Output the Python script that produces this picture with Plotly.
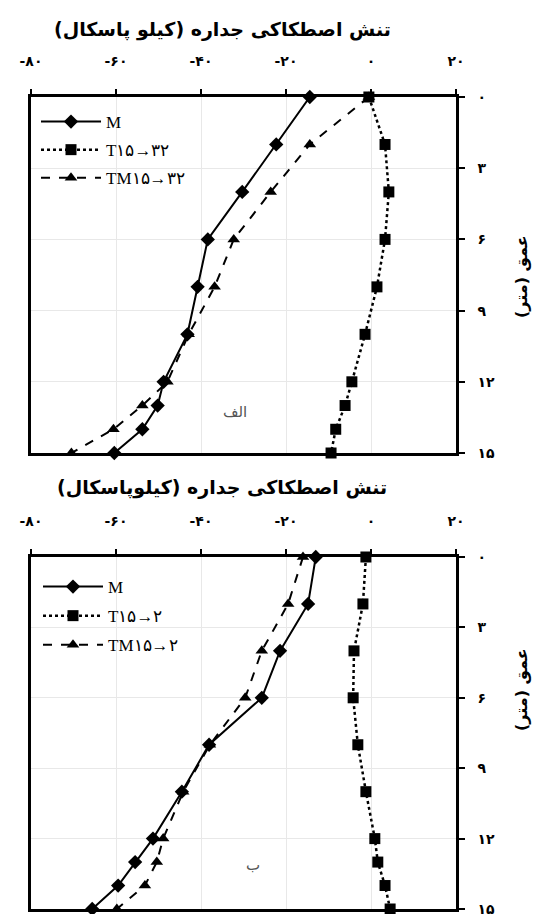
import plotly.graph_objects as go
from plotly.subplots import make_subplots

# ---------------- data ----------------
depth = [0, 2, 4, 6, 8, 10, 12, 13, 14, 15]

# panel a (الف)
m_a = [-14.4, -22.3, -30.3, -38.4, -40.8, -43.2, -48.8, -50.2, -53.8, -60.4]
t_a = [-0.5, 3.3, 4.2, 3.3, 1.4, -1.4, -4.5, -6.1, -8.3, -9.4]
tm_a = [-0.5, -14.4, -23.6, -32.3, -36.8, -42.9, -47.9, -53.8, -60.6, -70.5]

# panel b (ب)
m_b = [-13.0, -14.8, -21.4, -25.7, -38.1, -44.5, -51.3, -55.5, -59.5, -65.6]
t_b = [-1.2, -1.9, -4.0, -4.2, -3.1, -1.2, 0.9, 1.6, 3.3, 4.5]
tm_b = [-16.0, -19.5, -25.7, -29.6, -37.9, -44.2, -48.9, -50.4, -53.2, -59.8]

names_a = ["M", "T۱۵→۳۲", "TM۱۵→۳۲"]
names_b = ["M", "T۱۵→۲", "TM۱۵→۲"]

x_tickvals = [-80, -60, -40, -20, 0, 20]
x_ticktext = ["-۸۰", "-۶۰", "-۴۰", "-۲۰", "۰", "۲۰"]
y_tickvals = [0, 3, 6, 9, 12, 15]
y_ticktext = ["۰", "۳", "۶", "۹", "۱۲", "۱۵"]

RLM = "\u200f"
x_title_a = "تنش اصطکاکی جداره (کیلو پاسکال)"
x_title_b = "تنش اصطکاکی جداره (کیلوپاسکال)"
y_title = "عمق (متر)"
panel_labels = ["الف", "ب"]

# ---------------- geometry (page pixels) ----------------
W, H = 542, 914
PL, PR = 31, 456          # plot left/right
PT, PB = 97, 909          # overall plot top/bottom
ML, MR, MT, MB = PL, W - PR, PT, H - PB
plot_h = H - MT - MB
plot_w = W - ML - MR

def py(ypix):
    return (PB - ypix) / plot_h

def px(xpix):
    return (xpix - PL) / plot_w

fig = make_subplots(rows=2, cols=1)
fig.update_layout(
    yaxis=dict(domain=[py(453), 1.0]),
    yaxis2=dict(domain=[0.0, py(557)]),
)

styles = [
    dict(line=dict(color="black", width=2, dash="solid"),
         marker=dict(symbol="diamond", size=11, color="black")),
    dict(line=dict(color="black", width=2.5, dash="dot"),
         marker=dict(symbol="square", size=11, color="black")),
    dict(line=dict(color="black", width=2, dash="dash"),
         marker=dict(symbol="triangle-up", size=11, color="black")),
]

for row, series, names, leg in [
    (1, [m_a, t_a, tm_a], names_a, "legend"),
    (2, [m_b, t_b, tm_b], names_b, "legend2"),
]:
    for i, (vals, name, st) in enumerate(zip(series, names, styles)):
        fig.add_trace(
            go.Scatter(x=vals, y=depth, mode="lines+markers", name=name,
                       legend=leg, legendgroup=f"{leg}_{i}", cliponaxis=False, **st),
            row=row, col=1,
        )

tickfont = dict(family="DejaVu Sans", size=14, color="black", weight="bold")
for r in (1, 2):
    fig.update_xaxes(
        row=r, col=1, range=[-80, 20], side="top", automargin=False,
        tickvals=x_tickvals, ticktext=x_ticktext, tickfont=tickfont,
        ticks="outside", ticklen=5, tickwidth=1.5, tickcolor="black",
        ticklabelstandoff=18, ticklabeloverflow="allow",
        showline=True, linecolor="black", linewidth=2.5, mirror=True,
        showgrid=True, gridcolor="#e8e8e8", gridwidth=1, zeroline=False,
    )
    fig.update_yaxes(
        row=r, col=1, range=[15, 0], side="right", automargin=False,
        tickvals=y_tickvals, ticktext=y_ticktext, tickfont=tickfont,
        ticks="outside", ticklen=6, tickwidth=1.5, tickcolor="black",
        ticklabelstandoff=10, ticklabeloverflow="allow",
        showline=True, linecolor="black", linewidth=2.5, mirror=True,
        showgrid=True, gridcolor="#e8e8e8", gridwidth=1, zeroline=False,
    )

legfont = dict(family="Liberation Serif", size=17, color="black")
fig.update_layout(
    width=W, height=H,
    margin=dict(l=ML, r=MR, t=MT, b=MB, autoexpand=False),
    paper_bgcolor="white", plot_bgcolor="white",
    showlegend=True,
    legend=dict(x=px(36), y=py(104), xanchor="left", yanchor="top",
                bgcolor="rgba(0,0,0,0)", font=legfont, itemwidth=60,
                tracegroupgap=3),
    legend2=dict(x=px(38), y=py(569), xanchor="left", yanchor="top",
                 bgcolor="rgba(0,0,0,0)", font=legfont, itemwidth=60,
                 tracegroupgap=4),
)

titlefont = dict(family="DejaVu Sans", size=19, color="black", weight="bold")
for txt, yc in [(x_title_a, py(29)), (x_title_b, py(487))]:
    fig.add_annotation(xref="paper", yref="paper", showarrow=False,
                       x=px(222), y=yc, xanchor="center", yanchor="middle",
                       text=RLM + txt + RLM, font=titlefont)

for yc in (py(277), py(690)):
    fig.add_annotation(xref="paper", yref="paper", x=px(521), y=yc,
                       xanchor="center", yanchor="middle",
                       text=RLM + y_title + RLM, textangle=-90,
                       showarrow=False,
                       font=dict(family="DejaVu Sans", size=16, color="black", weight="bold"))

fig.add_annotation(xref="paper", yref="paper", x=px(235), y=py(412),
                   text=panel_labels[0], showarrow=False,
                   font=dict(family="DejaVu Sans", size=15, color="#555555"))
fig.add_annotation(xref="paper", yref="paper", x=px(253), y=py(876),
                   text=panel_labels[1], showarrow=False,
                   font=dict(family="DejaVu Sans", size=15, color="#555555"))

fig.write_html(
    "out.html",
    config={"displayModeBar": False},
    post_script="document.body.style.margin='0';document.body.style.overflow='hidden';",
)
